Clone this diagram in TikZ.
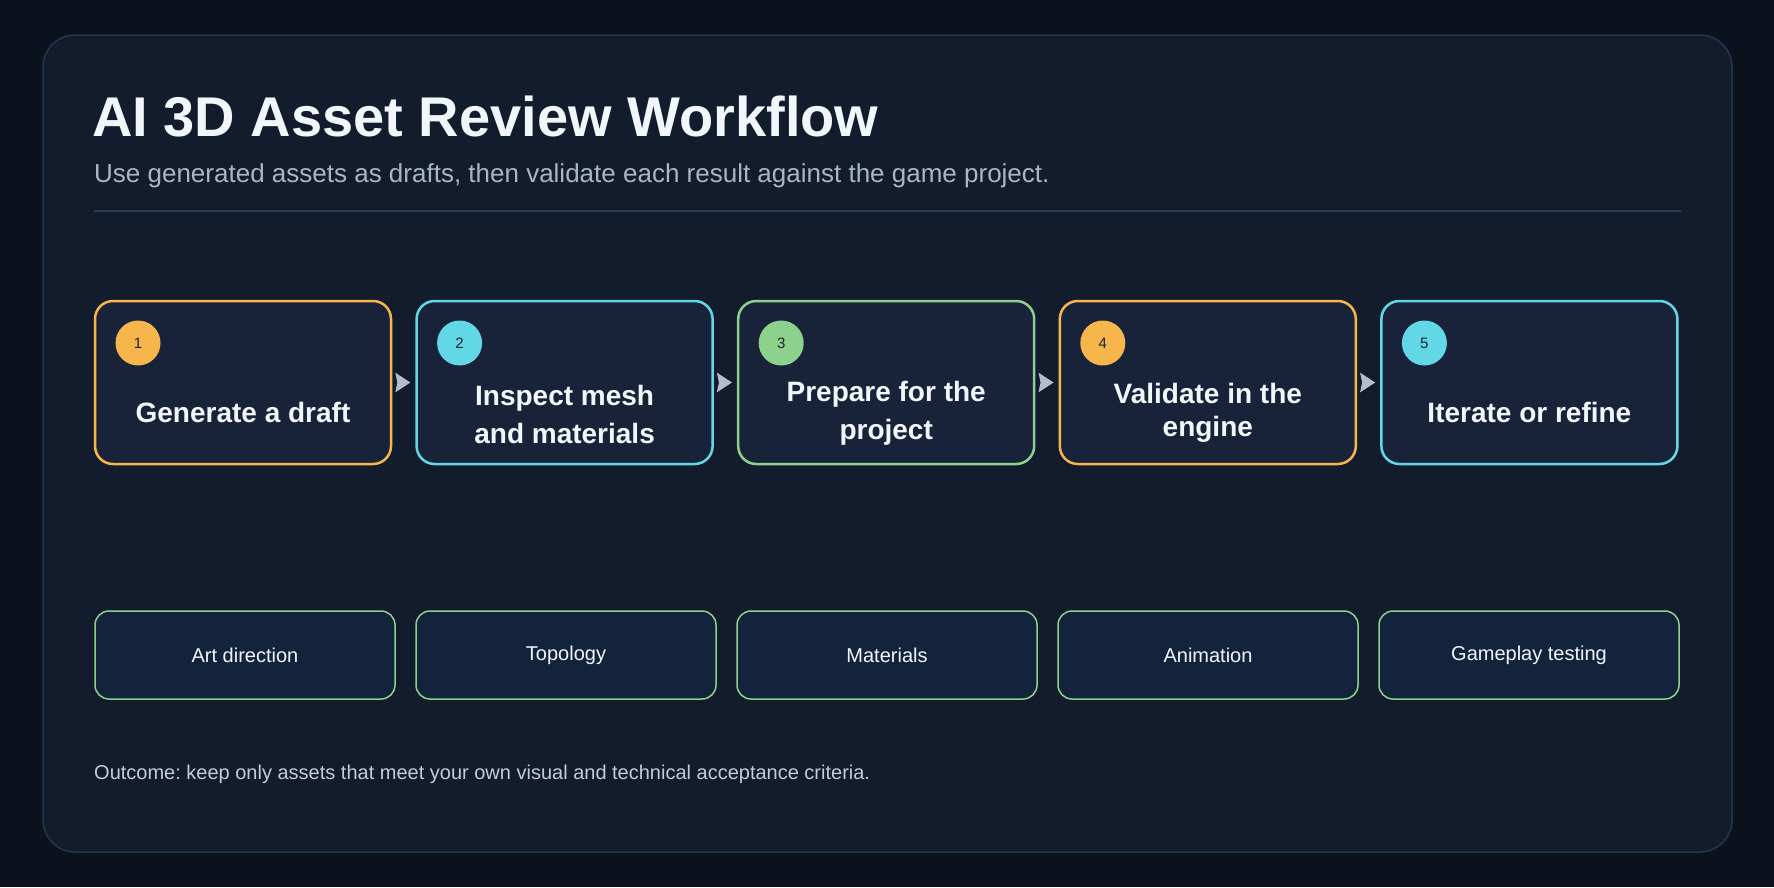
\documentclass[tikz,border=0pt]{standalone}
\usepackage{fontspec}
\setmainfont{Liberation Sans}
\usetikzlibrary{arrows.meta}
\frenchspacing
\definecolor{bgouter}{HTML}{0B111D}
\definecolor{panel}{HTML}{121C2C}
\definecolor{panelline}{HTML}{26354B}
\definecolor{divline}{HTML}{2A3B54}
\definecolor{stepfill}{HTML}{18233A}
\definecolor{tagfill}{HTML}{12233B}
\definecolor{corange}{HTML}{F6B64B}
\definecolor{ccyan}{HTML}{62D7E5}
\definecolor{cgreen}{HTML}{8DD28C}
\definecolor{titlec}{HTML}{F1F6FB}
\definecolor{subc}{HTML}{A9B6C6}
\definecolor{arrowc}{HTML}{B3BDCB}
\definecolor{numc}{HTML}{1A2230}
\definecolor{outc}{HTML}{C3CCD8}
\begin{document}
\frenchspacing
\begin{tikzpicture}[x=1pt,y=-1pt,
  stepbox/.style={draw, line width=2.5pt, fill=stepfill, rounded corners=18pt,
    minimum width=296pt, minimum height=163pt, inner sep=0pt},
  numdot/.style={circle, minimum size=45pt, inner sep=0pt, text=numc,
    font=\fontsize{15}{18}\selectfont},
  steptitle/.style={text=titlec, align=center, inner sep=0pt,
    font=\fontsize{28}{38}\selectfont\bfseries},
  tagbox/.style={draw=cgreen, line width=1.5pt, fill=tagfill, rounded corners=14pt,
    minimum width=300pt, minimum height=88pt, inner sep=0pt, text=titlec,
    font=\fontsize{20}{24}\selectfont},
  flow/.style={draw=arrowc, line width=1pt, shorten <=6pt, shorten >=5pt,
    -{Stealth[length=15pt,width=19.5pt,inset=2pt]}, arrowc}
]
\useasboundingbox (0,0) rectangle (1774,887);
\fill[bgouter] (0,0) rectangle (1774,887);
\draw[fill=panel, draw=panelline, line width=1.5pt, rounded corners=32pt] (43,35) rectangle (1732,852);

\node[anchor=base west, inner sep=0pt, text=titlec, font=\fontsize{56}{60}\selectfont\bfseries] (title) at (92,136) {AI 3D Asset Review Workflow};
\node[anchor=base west, inner sep=0pt, text=subc, font=\fontsize{26}{30}\selectfont] (sub) at (94,182) {Use generated assets as drafts, then validate each result against the game project.};
\coordinate (dl) at (94,211);
\coordinate (dr) at (1681,211);
\draw[divline, line width=1.5pt] (dl) -- (dr);

% step boxes
\node[stepbox, draw=corange] (s1) at (243,382.5) {};
\node[stepbox, draw=ccyan]   (s2) at (564.6,382.5) {};
\node[stepbox, draw=cgreen]  (s3) at (886.2,382.5) {};
\node[stepbox, draw=corange] (s4) at (1207.8,382.5) {};
\node[stepbox, draw=ccyan]   (s5) at (1529.4,382.5) {};

\node[numdot, fill=corange] (n1) at (138,343) {1};
\node[numdot, fill=ccyan]   (n2) at (459.6,343) {2};
\node[numdot, fill=cgreen]  (n3) at (781.2,343) {3};
\node[numdot, fill=corange] (n4) at (1102.8,343) {4};
\node[numdot, fill=ccyan]   (n5) at (1424.4,343) {5};

\node[steptitle] (t1) at (243,412) {Generate a draft};
\node[steptitle] (t2) at (564.6,414) {Inspect mesh\\and materials};
\node[steptitle] (t3) at (886.2,413.5) {Prepare for the\\project};
\node[steptitle, font=\fontsize{28}{33.5}\selectfont\bfseries] (t4) at (1207.8,413) {Validate in the\\engine};
\node[steptitle] (t5) at (1529.4,412) {Iterate or refine};

\draw[flow] (s1.east) -- (s2.west);
\draw[flow] (s2.east) -- (s3.west);
\draw[flow] (s3.east) -- (s4.west);
\draw[flow] (s4.east) -- (s5.west);

% tags
\node[tagbox] (g1) at (245,655) {Art direction};
\node[tagbox] (g2) at (566,655) {Topology};
\node[tagbox] (g3) at (887,655) {Materials};
\node[tagbox] (g4) at (1208,655) {Animation};
\node[tagbox] (g5) at (1529,655) {Gameplay testing};

\node[anchor=base west, inner sep=0pt, text=outc, font=\fontsize{20}{24}\selectfont] (out) at (94,779) {Outcome: keep only assets that meet your own visual and technical acceptance criteria.};
\end{tikzpicture}
\end{document}
